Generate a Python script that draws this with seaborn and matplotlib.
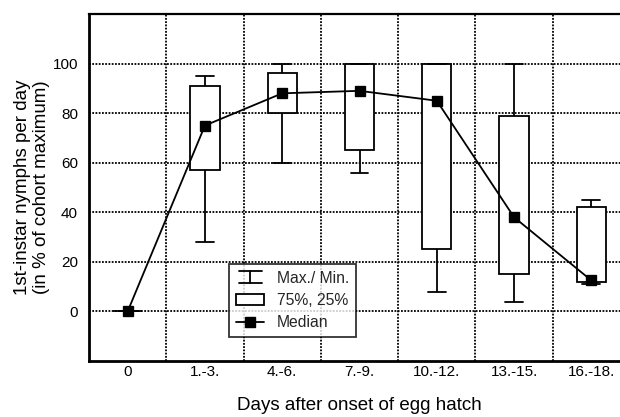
import numpy as np
import pandas as pd
import matplotlib
matplotlib.use("Agg")
import matplotlib.pyplot as plt
import seaborn as sns
from matplotlib.legend_handler import HandlerBase
from matplotlib.lines import Line2D
from matplotlib.patches import Rectangle

# ---- data ----
categories = ["0", "1.-3.", "4.-6.", "7.-9.", "10.-12.", "13.-15.", "16.-18."]
maxima    = [0, 95, 100, 100, 100, 100, 45]
q75       = [0, 91, 96, 100, 100, 79, 42]
medians   = [0, 75, 88, 89, 85, 38, 12.5]
q25       = [0, 57, 80, 65, 25, 15, 12]
minima    = [0, 28, 60, 56, 8, 4, 11]
y_ticks   = [0, 20, 40, 60, 80, 100]

# five-number rows per category -> boxplot gives exactly these quartiles
rows = []
for c, a, b, m, d, e in zip(categories, minima, q25, medians, q75, maxima):
    for v in (a, b, m, d, e):
        rows.append({"cat": c, "val": v})
df = pd.DataFrame(rows)
med_df = pd.DataFrame({"cat": categories, "val": medians})

sns.set_theme(style="white")
plt.rcParams["font.family"] = ["Liberation Sans", "DejaVu Sans"]

fig = plt.figure(figsize=(6.2, 4.17), dpi=100)
ax = fig.add_axes([89 / 620, 1 - 361 / 417, 541 / 620, 347 / 417])

sns.boxplot(data=df, x="cat", y="val", order=categories, ax=ax,
            color="white", saturation=1, linecolor="black", linewidth=1.3,
            whis=np.inf, width=0.38, showfliers=False,
            medianprops={"linewidth": 0, "alpha": 0},
            capwidths=0.23, zorder=3)

sns.pointplot(data=med_df, x="cat", y="val", order=categories, ax=ax,
              color="black", markers="s", markersize=7, linewidth=1.3,
              errorbar=None, zorder=5)

ax.set_xlim(-0.5, 6.5)
ax.set_ylim(-20, 120)
ax.set_yticks(y_ticks)
ax.set_xticks(range(len(categories)))
ax.set_xticklabels(categories)

# grid
grid_ls = (0, (1.0, 0.8))
for yv in y_ticks:
    ax.axhline(yv, color="black", lw=1.3, ls=grid_ls, zorder=1)
for xv in np.arange(0.5, 6.0, 1.0):
    ax.axvline(xv, color="black", lw=1.3, ls=grid_ls, zorder=1)

ax.tick_params(axis="both", length=0, labelsize=11, colors="black")
ax.tick_params(axis="y", pad=8)
ax.tick_params(axis="x", pad=3)
for s in ["left", "bottom"]:
    ax.spines[s].set_linewidth(2)
    ax.spines[s].set_color("black")
ax.spines["top"].set_linewidth(1.6)
ax.spines["top"].set_color("black")
ax.spines["right"].set_visible(False)

ax.set_xlabel("Days after onset of egg hatch", fontsize=13.5, labelpad=13, color="black")
ax.set_ylabel("1st-instar nymphs per day\n(in % of cohort maximum)", fontsize=13.5,
              labelpad=2, color="black", linespacing=1.15)


class HandlerMaxMin(HandlerBase):
    def create_artists(self, legend, orig_handle, xdescent, ydescent,
                       width, height, fontsize, trans):
        x0 = -xdescent + width * 0.1
        x1 = -xdescent + width * 0.9
        xc = -xdescent + width / 2
        yt = -ydescent + height * 1.05
        yb = -ydescent + height * 0.0
        l1 = Line2D([x0, x1], [yt, yt], color="black", lw=1.3, transform=trans)
        l2 = Line2D([x0, x1], [yb, yb], color="black", lw=1.3, transform=trans)
        l3 = Line2D([xc, xc], [yb, yt], color="black", lw=1.3, transform=trans)
        return [l1, l2, l3]


class MaxMin:
    pass


h1 = MaxMin()
h2 = Rectangle((0, 0), 1, 1, facecolor="white", edgecolor="black", lw=1.3)
h3 = Line2D([], [], color="black", marker="s", markersize=7, lw=1.3)
leg = ax.legend([h1, h2, h3], ["Max./ Min.", "75%, 25%", "Median"],
                handler_map={MaxMin: HandlerMaxMin()},
                loc="lower left", bbox_to_anchor=(0.259, 0.069),
                frameon=True, fancybox=False, edgecolor="black",
                fontsize=11.3, handlelength=1.8, handletextpad=0.8,
                borderpad=0.45, labelspacing=0.45, borderaxespad=0)
leg.get_frame().set_linewidth(1.3)
leg.set_zorder(10)

fig.savefig("out.png", dpi=100)
